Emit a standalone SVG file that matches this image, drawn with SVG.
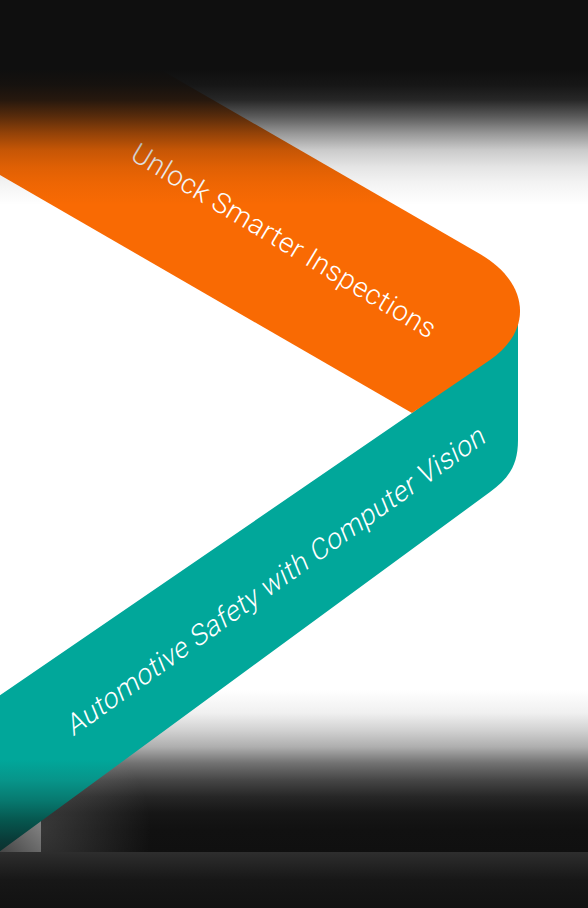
<svg xmlns="http://www.w3.org/2000/svg" width="588" height="908" viewBox="0 0 588 908">
  <style>
    .lbl { font-family: "Roboto", "Liberation Sans", sans-serif; font-weight: 300; font-size: 28px; fill: #ffffff; }
  </style>
  <defs>
    <linearGradient id="topFade" gradientUnits="userSpaceOnUse" x1="0" y1="0" x2="0" y2="210">
      <stop offset="0" stop-color="#0f0f0f" stop-opacity="1"/>
      <stop offset="0.33" stop-color="#0f0f0f" stop-opacity="1"/>
      <stop offset="0.405" stop-color="#0f0f0f" stop-opacity="0.97"/>
      <stop offset="0.476" stop-color="#0f0f0f" stop-opacity="0.9"/>
      <stop offset="0.557" stop-color="#0f0f0f" stop-opacity="0.68"/>
      <stop offset="0.633" stop-color="#0f0f0f" stop-opacity="0.44"/>
      <stop offset="0.714" stop-color="#0f0f0f" stop-opacity="0.22"/>
      <stop offset="0.795" stop-color="#0f0f0f" stop-opacity="0.11"/>
      <stop offset="0.871" stop-color="#0f0f0f" stop-opacity="0.05"/>
      <stop offset="0.976" stop-color="#0f0f0f" stop-opacity="0"/>
    </linearGradient>
    <linearGradient id="botFade" gradientUnits="userSpaceOnUse" x1="0" y1="690" x2="0" y2="852">
      <stop offset="0" stop-color="#ffffff"/>
      <stop offset="0.142" stop-color="#f0f0f0"/>
      <stop offset="0.247" stop-color="#d2d2d2"/>
      <stop offset="0.352" stop-color="#aeaeae"/>
      <stop offset="0.451" stop-color="#727272"/>
      <stop offset="0.556" stop-color="#464646"/>
      <stop offset="0.66" stop-color="#262626"/>
      <stop offset="0.759" stop-color="#161616"/>
      <stop offset="0.864" stop-color="#111111"/>
      <stop offset="1" stop-color="#101010"/>
    </linearGradient>
    <radialGradient id="edgeGlow" gradientUnits="userSpaceOnUse" cx="41" cy="830" r="110">
      <stop offset="0" stop-color="#ffffff" stop-opacity="0.16"/>
      <stop offset="1" stop-color="#ffffff" stop-opacity="0"/>
    </radialGradient>
    <linearGradient id="stripFade" gradientUnits="userSpaceOnUse" x1="41" y1="815" x2="0" y2="855">
      <stop offset="0" stop-color="#8a8a8a"/>
      <stop offset="1" stop-color="#424242"/>
    </linearGradient>
    <linearGradient id="floorFade" gradientUnits="userSpaceOnUse" x1="0" y1="852" x2="0" y2="908">
      <stop offset="0" stop-color="#2e2e2e"/>
      <stop offset="0.5" stop-color="#171717"/>
      <stop offset="1" stop-color="#121212"/>
    </linearGradient>
    <linearGradient id="tealFill" gradientUnits="userSpaceOnUse" x1="0" y1="0" x2="0" y2="908">
      <stop offset="0.837" stop-color="#01a79a"/>
      <stop offset="0.859" stop-color="#07958a"/>
      <stop offset="0.881" stop-color="#077a70"/>
      <stop offset="0.903" stop-color="#06574f"/>
      <stop offset="0.925" stop-color="#093b38"/>
      <stop offset="0.942" stop-color="#0d2d2b"/>
    </linearGradient>
  </defs>

  <g id="background">
    <rect x="0" y="0" width="588" height="908" fill="#ffffff"/>
    <rect x="0" y="688" width="588" height="166" fill="url(#botFade)"/>
    <rect x="41" y="720" width="547" height="132" fill="url(#edgeGlow)"/>
    <rect x="0" y="780" width="41" height="72" fill="url(#stripFade)"/>
    <rect x="0" y="852" width="588" height="56" fill="url(#floorFade)"/>
  </g>

  <g id="teal-ribbon">
    <path d="M -20,709 L 412,413 L 480,362 L 510,326 L 518,308 L 518,440 C 518,466 508,479 490,492 L -20,866 Z" fill="url(#tealFill)"/>
    <text class="lbl" text-anchor="middle" transform="translate(280,589) rotate(-35.5) skewX(-13)" textLength="508">Automotive Safety with Computer Vision</text>
  </g>

  <g id="orange-ribbon">
    <path d="M -20,-34.5 L 480,254 C 527.6,281.5 535,328.8 490,360 L 412,413 L -20,163.5 Z" fill="#f96a03"/>
    <text class="lbl" text-anchor="middle" transform="translate(279,249) rotate(31)" textLength="350">Unlock Smarter Inspections</text>
  </g>

  <g id="top-shade">
    <rect x="0" y="0" width="588" height="210" fill="url(#topFade)"/>
  </g>
</svg>
